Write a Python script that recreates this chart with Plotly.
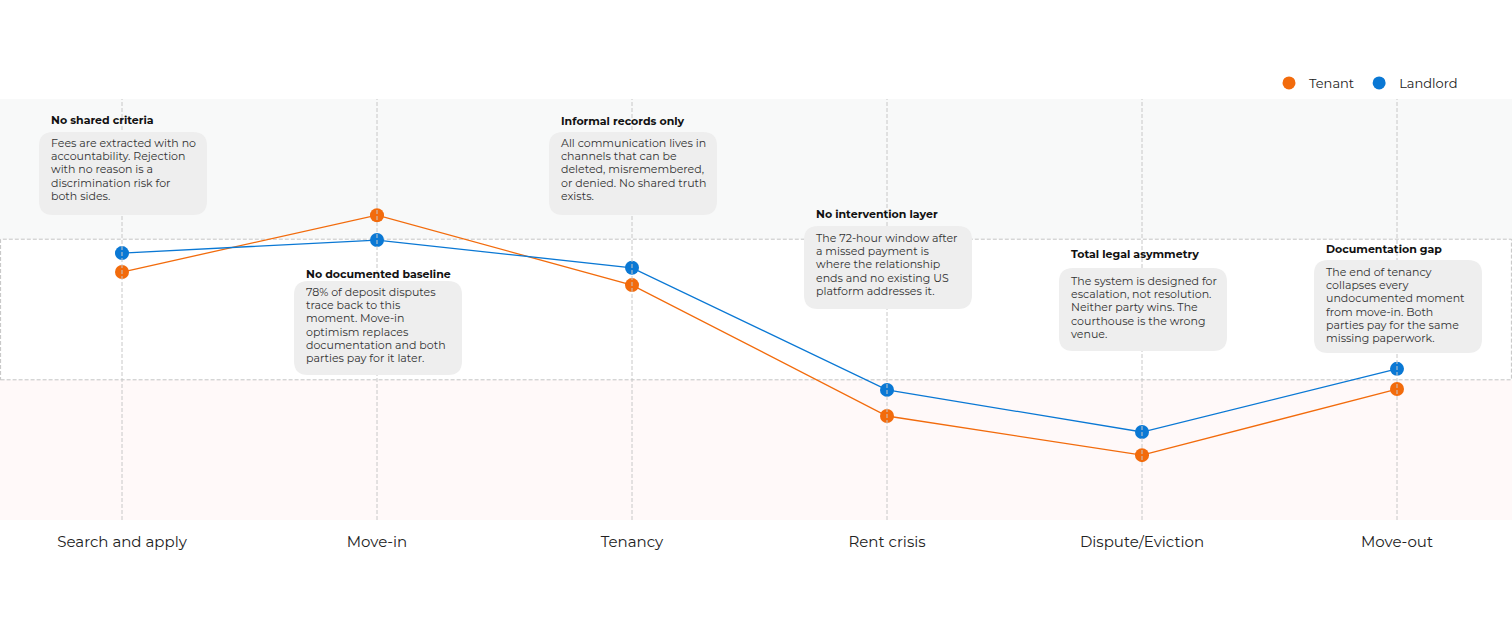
import plotly.graph_objects as go

# ---------------- data ----------------
stages = ["Search and apply", "Move-in", "Tenancy", "Rent crisis", "Dispute/Eviction", "Move-out"]
tenant = [58.9, 72.4, 55.8, 24.7, 15.4, 31.1]
landlord = [63.4, 66.5, 59.9, 30.9, 20.9, 35.9]
band_low, band_high = 33.3, 66.7

titles = ["No shared criteria", "No documented baseline", "Informal records only",
          "No intervention layer", "Total legal asymmetry", "Documentation gap"]
notes = [
    ["Fees are extracted with no", "accountability. Rejection", "with no reason is a",
     "discrimination risk for", "both sides."],
    ["78% of deposit disputes", "trace back to this", "moment. Move-in",
     "optimism replaces", "documentation and both", "parties pay for it later."],
    ["All communication lives in", "channels that can be", "deleted, misremembered,",
     "or denied. No shared truth", "exists."],
    ["The 72-hour window after", "a missed payment is", "where the relationship",
     "ends and no existing US", "platform addresses it."],
    ["The system is designed for", "escalation, not resolution.", "Neither party wins. The",
     "courthouse is the wrong", "venue."],
    ["The end of tenancy", "collapses every", "undocumented moment",
     "from move-in. Both", "parties pay for the same", "missing paperwork."],
]

# ---------------- layout constants (pixels) ----------------
W, H = 1512, 631
TOP, BOTTOM = 99, 520
PH = BOTTOM - TOP
CAT0, STEP = 122, 255
TENANT_C = "#F26B0C"
LANDLORD_C = "#0A78D4"
FONT = "Montserrat, Open Sans, sans-serif"

# box placement: (box top, box bottom, title center, first line center)
box_pos = [(132, 215, 120, 143), (281, 375, 274, 292), (132, 215, 121, 143),
           (226, 309, 214, 238), (268, 351, 254, 281), (260, 353, 249, 272)]
LINE_H = 13.2


def py(p):
    return (BOTTOM - p) / PH


def px(p):
    return p / W


fig = go.Figure()

fig.add_trace(go.Scatter(x=stages, y=tenant, mode="lines+markers", name="Tenant",
                         line=dict(color=TENANT_C, width=1.3),
                         marker=dict(size=14, color=TENANT_C), showlegend=False))
fig.add_trace(go.Scatter(x=stages, y=landlord, mode="lines+markers", name="Landlord",
                         line=dict(color=LANDLORD_C, width=1.3),
                         marker=dict(size=14, color=LANDLORD_C), showlegend=False))
# legend entries (marker only)
fig.add_trace(go.Scatter(x=[None], y=[None], mode="markers", name="Tenant",
                         marker=dict(size=13, color=TENANT_C)))
fig.add_trace(go.Scatter(x=[None], y=[None], mode="markers", name="Landlord",
                         marker=dict(size=13, color=LANDLORD_C)))

DASH = "4px,2px"
shapes = []
# bands
shapes.append(dict(type="rect", xref="paper", yref="y", x0=0, x1=1, y0=band_high, y1=100,
                   fillcolor="#f8f9f9", line=dict(width=0), layer="below"))
shapes.append(dict(type="rect", xref="paper", yref="y", x0=0, x1=1, y0=0, y1=band_low,
                   fillcolor="#fff9f9", line=dict(width=0), layer="below"))
shapes.append(dict(type="rect", xref="paper", yref="y", x0=0.0004, x1=0.9996, y0=band_low, y1=band_high,
                   fillcolor="white", line=dict(width=1, color="#c4c4c4", dash=DASH), layer="below"))
# vertical dashed gridlines (above traces)
for s in stages:
    shapes.append(dict(type="line", xref="x", yref="paper", x0=s, x1=s, y0=0, y1=1,
                       line=dict(width=1, color="#c8c8c8", dash=DASH), layer="above"))

annotations = []
for i, (t, lines, (bt, bb, tc, fl)) in enumerate(zip(titles, notes, box_pos)):
    cx = CAT0 + STEP * i
    L, R = cx - 83, cx + 85
    r = 14
    xL, xR = px(L), px(R)
    yT, yB = py(bt), py(bb)
    rx, ry = r / W, r / PH
    path = (f"M {xL+rx},{yT} L {xR-rx},{yT} Q {xR},{yT} {xR},{yT-ry} "
            f"L {xR},{yB+ry} Q {xR},{yB} {xR-rx},{yB} "
            f"L {xL+rx},{yB} Q {xL},{yB} {xL},{yB+ry} "
            f"L {xL},{yT-ry} Q {xL},{yT} {xL+rx},{yT} Z")
    shapes.append(dict(type="path", xref="paper", yref="paper", path=path,
                       fillcolor="#eeeeee", line=dict(width=0), layer="above"))
    annotations.append(dict(text=f"<b>{t}</b>", xref="paper", yref="paper",
                            x=px(L + 10), y=py(tc), xanchor="left", yanchor="middle",
                            showarrow=False, font=dict(family=FONT, size=11, color="#111111")))
    for k, ln in enumerate(lines):
        annotations.append(dict(text=ln, xref="paper", yref="paper",
                                x=px(L + 10), y=py(fl + k * LINE_H), xanchor="left", yanchor="middle",
                                showarrow=False, font=dict(family=FONT, size=11, color="#333333")))

fig.update_layout(
    width=W, height=H,
    margin=dict(l=0, r=0, t=TOP, b=H - BOTTOM),
    paper_bgcolor="white", plot_bgcolor="white",
    font=dict(family=FONT, color="#222222"),
    shapes=shapes, annotations=annotations,
    showlegend=True,
    legend=dict(orientation="h", x=1463 / W, xanchor="right", y=py(83), yanchor="middle",
                font=dict(family=FONT, size=13, color="#222222"), bgcolor="rgba(0,0,0,0)",
                itemclick=False, itemwidth=30),
    xaxis=dict(type="category", range=[-CAT0 / STEP, (W - CAT0) / STEP],
               showgrid=False, zeroline=False, showline=False,
               ticks="outside", ticklen=8, tickcolor="rgba(0,0,0,0)",
               tickfont=dict(family=FONT, size=15, color="#222222"), fixedrange=True),
    yaxis=dict(range=[0, 100], showgrid=False, zeroline=False, showline=False,
               showticklabels=False, fixedrange=True),
)

fig.write_html("out.html", config={"displayModeBar": False},
               post_script="document.body.style.margin='0';document.body.style.overflow='hidden';")
